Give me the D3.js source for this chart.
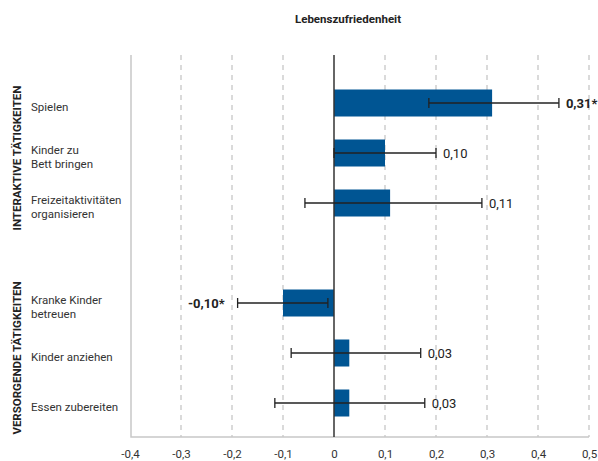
<!DOCTYPE html>
<html>
<head>
<meta charset="utf-8">
<script src="https://cdn.jsdelivr.net/npm/d3@7"></script>
<style>
  body { margin: 0; background: #fff; }
  text { font-family: Roboto, "Noto Sans", sans-serif; }
</style>
</head>
<body>
<div id="chart"></div>
<script>
// data
const categories = ["Spielen", "Kinder zu|Bett bringen", "Freizeitaktivitäten|organisieren", "", "Kranke Kinder|betreuen", "Kinder anziehen", "Essen zubereiten"]
const values = [0.31, 0.10, 0.11, null, -0.10, 0.03, 0.03]
const ciLow = [0.186, 0.0, -0.057, null, -0.189, -0.084, -0.116]
const ciHigh = [0.441, 0.20, 0.29, null, -0.012, 0.17, 0.178]
const valueLabels = ["0,31*", "0,10", "0,11", "", "-0,10*", "0,03", "0,03"]
const significant = [true, false, false, false, true, false, false]
const groups = [
  { name: "INTERAKTIVE TÄTIGKEITEN", from: 0, to: 2 },
  { name: "VERSORGENDE TÄTIGKEITEN", from: 4, to: 6 }
]
const tickValues = [-0.4, -0.3, -0.2, -0.1, 0, 0.1, 0.2, 0.3, 0.4, 0.5]
const title = "Lebenszufriedenheit"

const width = 598
const height = 461
const margin = ({ top: 55, right: 9, bottom: 24, left: 131 })

const svg = d3.select('#chart')
    .append("svg")
    .attr("width", width)
    .attr("height", height)

const x = d3.scaleLinear()
    .domain([-0.4, 0.5])
    .range([margin.left - 1, 589])

const y = d3.scaleBand()
    .domain(d3.range(categories.length))
    .range([78, 428])
    .paddingInner(0.46)
    .paddingOuter(0.23)

const fmt = v => String(v === 0 ? "0" : d3.format(".1f")(v)).replace(".", ",").replace("−", "-")

// grid lines
svg.append("g")
    .selectAll("line")
    .data(tickValues.filter(d => d !== 0 && d !== -0.4))
    .join("line")
    .attr("x1", d => x(d))
    .attr("x2", d => x(d))
    .attr("y1", margin.top)
    .attr("y2", height - margin.bottom)
    .attr("stroke", "#b5b5b5")
    .attr("stroke-width", 1)
    .attr("stroke-dasharray", "5,5")

// frame (left + bottom)
svg.append("path")
    .attr("d", `M${margin.left},${margin.top}V${height - margin.bottom}H${x(0.5)}`)
    .attr("fill", "none")
    .attr("stroke", "#c8c8c8")
    .attr("stroke-width", 1.5)

// x axis labels
svg.append("g")
    .attr("transform", `translate(0,${height - margin.bottom})`)
    .call(d3.axisBottom(x).tickValues(tickValues).tickSize(0).tickPadding(13).tickFormat(fmt))
    .call(g => g.select(".domain").remove())
    .call(g => g.selectAll("text")
        .attr("font-size", 11.5)
        .attr("fill", "#333")
        .style("font-family", "Roboto, sans-serif"))

// bars
const rows = d3.range(categories.length).filter(i => values[i] !== null)

svg.append("g")
    .attr("fill", "#005593")
    .selectAll("rect")
    .data(rows)
    .join("rect")
    .attr("x", i => x(Math.min(0, values[i])))
    .attr("width", i => Math.abs(x(values[i]) - x(0)))
    .attr("y", i => y(i))
    .attr("height", y.bandwidth())

// zero line
svg.append("line")
    .attr("x1", x(0))
    .attr("x2", x(0))
    .attr("y1", margin.top)
    .attr("y2", height - margin.bottom)
    .attr("stroke", "#333")
    .attr("stroke-width", 1.5)

// error bars
const err = svg.append("g")
    .attr("stroke", "#222")
    .attr("stroke-width", 1.3)
    .selectAll("g")
    .data(rows)
    .join("g")
    .attr("transform", i => `translate(0,${y(i) + y.bandwidth() / 2})`)

err.append("line")
    .attr("x1", i => x(ciLow[i]))
    .attr("x2", i => x(ciHigh[i]))
err.append("line")
    .attr("x1", i => x(ciLow[i]))
    .attr("x2", i => x(ciLow[i]))
    .attr("y1", -5).attr("y2", 5)
err.append("line")
    .attr("x1", i => x(ciHigh[i]))
    .attr("x2", i => x(ciHigh[i]))
    .attr("y1", -5).attr("y2", 5)

// value labels
svg.append("g")
    .selectAll("text")
    .data(rows)
    .join("text")
    .attr("x", i => values[i] < 0 ? x(ciLow[i]) - 13 : x(ciHigh[i]) + 7)
    .attr("y", i => y(i) + y.bandwidth() / 2)
    .attr("dy", "0.35em")
    .attr("text-anchor", i => values[i] < 0 ? "end" : "start")
    .attr("font-size", 13)
    .attr("font-weight", i => significant[i] ? "bold" : "normal")
    .attr("fill", "#222")
    .text(i => valueLabels[i])

// category labels (sit a little below the bar centre, as in the original)
const cat = svg.append("g")
    .selectAll("text")
    .data(rows)
    .join("text")
    .attr("x", 31)
    .attr("y", i => y(i) + y.bandwidth() / 2 + 4)
    .attr("font-size", 11.5)
    .attr("fill", "#333")

cat.selectAll("tspan")
    .data(i => categories[i].split("|").map((t, k, a) => ({ t, k, n: a.length })))
    .join("tspan")
    .attr("x", 31)
    .attr("dy", d => d.k === 0 ? `${0.35 - (d.n - 1) * 0.6}em` : "1.2em")
    .text(d => d.t)

// group labels
svg.append("g")
    .selectAll("text")
    .data(groups)
    .join("text")
    .attr("transform", d => `translate(21,${(y(d.from) + y(d.to) + y.bandwidth()) / 2 + 5}) rotate(-90)`)
    .attr("text-anchor", "middle")
    .attr("font-size", 11.5)
    .attr("font-weight", "bold")
    .attr("fill", "#222")
    .text(d => d.name)

// title
svg.append("text")
    .attr("x", 348)
    .attr("y", 23)
    .attr("text-anchor", "middle")
    .attr("font-size", 11.5)
    .attr("font-weight", "bold")
    .attr("fill", "#222")
    .text(title)
</script>
</body>
</html>
